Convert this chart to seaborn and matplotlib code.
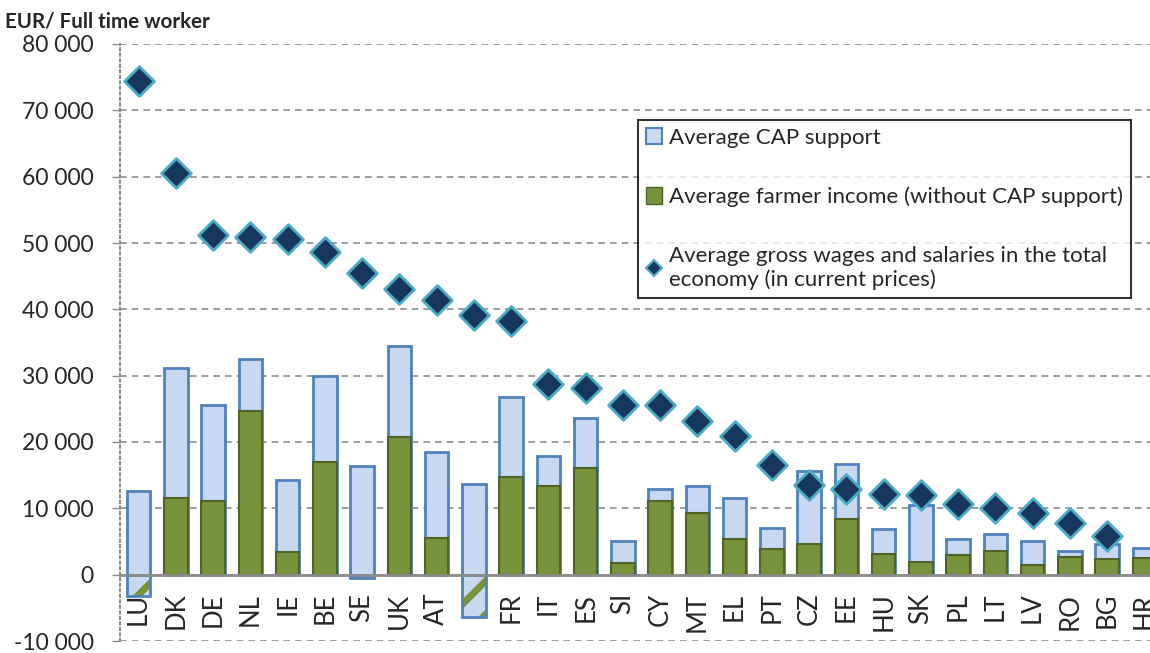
import numpy as np
import pandas as pd
import seaborn as sns
import matplotlib.pyplot as plt
from matplotlib.patches import Patch
from matplotlib.lines import Line2D

sns.set_style('white')
plt.rcParams['font.family'] = ['Lato', 'DejaVu Sans']
plt.rcParams['hatch.linewidth'] = 5

countries = ['LU', 'DK', 'DE', 'NL', 'IE', 'BE', 'SE', 'UK', 'AT', 'FI', 'FR', 'IT', 'ES', 'SI',
             'CY', 'MT', 'EL', 'PT', 'CZ', 'EE', 'HU', 'SK', 'PL', 'LT', 'LV', 'RO', 'BG', 'HR']
farmer_income = [-3170, 11510, 11100, 24620, 3470, 17040, -550, 20700, 5530, -6330, 14670, 13370,
                 16130, 1810, 11060, 9300, 5380, 3870, 4670, 8390, 3120, 1910, 3020, 3520, 1510,
                 2710, 2410, 2510]
cap_support = [12560, 19590, 14480, 7940, 10850, 12910, 16430, 13720, 13010, 13670, 12110, 4570,
               7490, 3220, 1800, 4020, 6130, 3220, 10910, 8240, 3810, 8640, 2360, 2660, 3520,
               910, 2210, 1560]
gross_wages = [74380, 60580, 51140, 50940, 50540, 48680, 45420, 43010, 41410, 39100, 38300, 28790,
               28190, 25530, 25530, 23170, 20850, 16580, 13570, 12910, 12210, 11960, 10650, 10050,
               9350, 7840, 5880, np.nan]

BLUE_FILL = '#C6D9F1'
BLUE_EDGE = '#4F81BD'
GREEN_FILL = '#77933C'
GREEN_EDGE = '#4F6228'
NAVY = '#17375E'
TEAL = '#4BACC6'
GRID = '#8C8C8C'

df = pd.DataFrame({'country': countries, 'income': farmer_income, 'cap': cap_support,
                   'wages': gross_wages})
# Excel-style stacking: CAP support sits on top of positive income, from 0 otherwise
df['top'] = df['income'].clip(lower=0) + df['cap']
pos = df[df['income'] > 0]
neg = df[df['income'] < 0]

fig = plt.figure(figsize=(11.5, 6.53), dpi=100)
ax = fig.add_axes([120 / 1150, 1 - 641 / 653, (1163 - 120) / 1150, (641 - 44) / 653])

bar_w = 0.63
sns.barplot(data=df, x='country', y='top', order=countries, color=BLUE_FILL, saturation=1,
            edgecolor=BLUE_EDGE, linewidth=2, width=bar_w, ax=ax, zorder=2)
sns.barplot(data=pos, x='country', y='income', order=countries, color=GREEN_FILL, saturation=1,
            edgecolor=GREEN_EDGE, linewidth=1.5, width=bar_w, ax=ax, zorder=3)
# negative incomes: patterned fill with a blue outline
sns.barplot(data=neg, x='country', y='income', order=countries, color=BLUE_FILL, saturation=1,
            edgecolor=GREEN_FILL, hatch='/', linewidth=0, width=bar_w, ax=ax, zorder=3)
sns.barplot(data=neg, x='country', y='income', order=countries, fill=False,
            edgecolor=BLUE_EDGE, linewidth=2, width=bar_w, ax=ax, zorder=4)

sns.scatterplot(x=np.arange(len(countries)), y=df['wages'], marker='D', s=230, color=NAVY,
                edgecolor=TEAL, linewidth=2, ax=ax, zorder=5)

ax.set_xlim(-0.5, len(countries) - 0.5)
ax.set_ylim(-10000, 80000)
ax.set_yticks(np.arange(-10000, 80001, 10000))
ax.set_yticklabels([f'{v:,}'.replace(',', ' ') for v in range(-10000, 80001, 10000)])
ax.set_xlabel('')
ax.set_ylabel('')

ax.set_axisbelow(True)
ax.yaxis.grid(True, color=GRID, linestyle=(0, (4, 3)), linewidth=1.2)
ax.xaxis.grid(False)

for s in ['top', 'right']:
    ax.spines[s].set_visible(False)
ax.spines['left'].set_linestyle(':')
ax.spines['left'].set_color(GRID)
ax.spines['left'].set_linewidth(1.5)
ax.spines['bottom'].set_position(('data', 0))
ax.spines['bottom'].set_color(GRID)
ax.spines['bottom'].set_linewidth(2)
ax.spines['bottom'].set_zorder(6)

ax.set_xticks(np.arange(-0.5, len(countries), 1), minor=True)
ax.tick_params(axis='x', which='major', length=0, pad=13, labelsize=18.5, labelrotation=90)
ax.tick_params(axis='x', which='minor', length=8, width=1.5, color=GRID, direction='out')
ax.tick_params(axis='y', length=6, width=1, color=GRID, labelsize=16.5, pad=13,
               left=True)

fig.text(5 / 1150, 1 - 22 / 653, 'EUR/ Full time worker', fontsize=14.8, fontweight='bold',
         va='center', ha='left')

handles = [
    Patch(facecolor=BLUE_FILL, edgecolor=BLUE_EDGE, linewidth=1.5),
    Patch(facecolor=GREEN_FILL, edgecolor=GREEN_EDGE, linewidth=1),
    Line2D([], [], marker='D', linestyle='none', markersize=8, markerfacecolor=NAVY,
           markeredgecolor=TEAL, markeredgewidth=1.5),
]
labels = ['Average CAP support', 'Average farmer income (without CAP support)',
          'Average gross wages and salaries in the total\neconomy (in current prices)']
leg = ax.legend(handles, labels, loc='upper left', bbox_to_anchor=(638 / 1150, 1 - 120 / 653),
                bbox_transform=fig.transFigure, fontsize=16, frameon=True, fancybox=False,
                edgecolor='black', labelspacing=1.75, handlelength=0.75, handleheight=0.75,
                handletextpad=0.3, borderpad=0.35, borderaxespad=0)
leg.get_frame().set_linewidth(1.5)
leg.set_zorder(10)

fig.savefig('out.png', dpi=100)
